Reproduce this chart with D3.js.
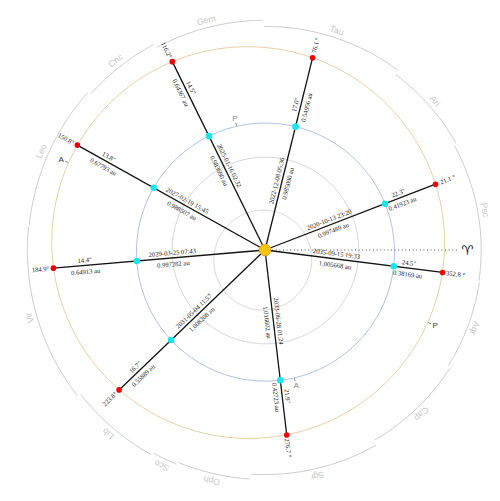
<!DOCTYPE html>
<html>
<head>
<meta charset="utf-8">
<script src="https://cdn.jsdelivr.net/npm/d3@7"></script>
<style>
  body { margin: 0; background: #fff; }
  svg { display: block; }
</style>
</head>
<body>
<div id="chart"></div>
<script>
// opposition data (heliocentric longitude of Mars, distances in au)
var dates = ["2020-10-13 23:20", "2022-12-08 05:36", "2025-01-16 02:32", "2027-02-19 15:45",
             "2029-03-25 07:43", "2031-05-04 11:57", "2033-06-28 01:24", "2035-09-15 19:33"];
var longitudes = [21.1, 76.1, 116.2, 150.8, 184.9, 223.8, 276.7, 352.8];
var earthDist = [0.997489, 0.985090, 0.983690, 0.988507, 0.997282, 1.008208, 1.016602, 1.005668];
var marsDist = [0.41923, 0.54956, 0.64367, 0.67793, 0.64913, 0.55889, 0.42723, 0.38169];
var marsDiam = [22.3, 17.0, 14.5, 13.8, 14.4, 16.7, 21.9, 24.5];

// orbits: Mercury, Venus, Earth, Mars
var planets = ["Mercury", "Venus", "Earth", "Mars"];
var semiMajor = [0.3871, 0.7233, 1.0000, 1.5237];
var eccentricity = [0.2056, 0.0068, 0.0167, 0.0934];
var perihelionLon = [77.46, 131.53, 102.94, 336.04];

// constellations along the ecliptic, with the longitude where each one starts
var zodiacNames = ["Psc", "Ari", "Tau", "Gem", "Cnc", "Leo", "Vir", "Lib", "Sco", "Oph", "Sgr", "Cap", "Aqr"];
var zodiacStart = [351.6, 29.1, 53.4, 90.4, 118.3, 138.2, 174.2, 217.9, 241.1, 247.7, 266.3, 299.8, 327.6];

var svgWidth = 500;
var svgHeight = 501;
var cx = 265, cy = 250;

var svg = d3.select("#chart").append("svg")
    .attr("width", svgWidth)
    .attr("height", svgHeight);

// au -> px
var rScale = d3.scaleLinear().domain([0, 1]).range([0, 129]);

function pt(lon, r) {
    var a = lon * Math.PI / 180;
    return [cx + r * Math.cos(a), cy - r * Math.sin(a)];
}

function orbitR(i, lon) {
    var a = semiMajor[i], e = eccentricity[i];
    return a * (1 - e * e) / (1 + e * Math.cos((lon - perihelionLon[i]) * Math.PI / 180));
}

var line = d3.line();

// zodiac ring, slightly off-centre
function ringR(lon) {
    return 227 - 11 * Math.cos(lon * Math.PI / 180);
}

var zodiac = zodiacNames.map(function(name, i) {
    var s = zodiacStart[i];
    var e = zodiacStart[(i + 1) % zodiacStart.length];
    if (e < s) e += 360;
    return { name: name, start: s, end: e, mid: (s + e) / 2 };
});

var ringG = svg.append("g");
ringG.selectAll("path")
    .data(zodiac)
    .enter()
    .append("path")
    .attr("d", function(d) {
        var r = ringR(d.mid);
        return line(d3.range(d.start + 0.2, d.end - 0.2, 0.5).concat([d.end - 0.2]).map(function(t) { return pt(t, r); }));
    })
    .attr("fill", "none")
    .attr("stroke", "#cccccc")
    .attr("stroke-width", 1);

ringG.selectAll("text")
    .data(zodiac)
    .enter()
    .append("text")
    .attr("transform", function(d) {
        var p = pt(d.mid, ringR(d.mid) + 7.5);
        return "translate(" + p[0] + "," + p[1] + ") rotate(" + (90 - d.mid) + ")";
    })
    .attr("text-anchor", "middle")
    .attr("dy", "0.35em")
    .attr("font-family", "Liberation Sans, Arial, sans-serif")
    .attr("font-size", "8.8px")
    .attr("fill", "#c8c8c8")
    .text(function(d) { return d.name; });

// orbits
var orbitColors = ["#d6d6d6", "#d6d6d6", "#b0c0ea", "#ebcfa3"];
svg.append("g").selectAll("path")
    .data(planets)
    .enter()
    .append("path")
    .attr("d", function(p, i) {
        return line(d3.range(0, 361, 1).map(function(t) { return pt(t, rScale(orbitR(i, t))); })) + "Z";
    })
    .attr("fill", "none")
    .attr("stroke", function(p, i) { return orbitColors[i]; })
    .attr("stroke-width", 1);

// perihelion / aphelion marks for Earth and Mars
var apsides = [];
[2, 3].forEach(function(i) {
    apsides.push({ planet: i, lon: perihelionLon[i], label: "P" });
    apsides.push({ planet: i, lon: (perihelionLon[i] + 180) % 360, label: "A" });
});
var apG = svg.append("g");
apG.selectAll("line")
    .data(apsides)
    .enter()
    .append("line")
    .attr("x1", function(d) { return pt(d.lon, rScale(orbitR(d.planet, d.lon)) + 0.5)[0]; })
    .attr("y1", function(d) { return pt(d.lon, rScale(orbitR(d.planet, d.lon)) + 0.5)[1]; })
    .attr("x2", function(d) { return pt(d.lon, rScale(orbitR(d.planet, d.lon)) + 3.5)[0]; })
    .attr("y2", function(d) { return pt(d.lon, rScale(orbitR(d.planet, d.lon)) + 3.5)[1]; })
    .attr("stroke", "#666")
    .attr("stroke-width", 0.8);
apG.selectAll("text")
    .data(apsides)
    .enter()
    .append("text")
    .attr("x", function(d) { return pt(d.lon, rScale(orbitR(d.planet, d.lon)) + 8)[0]; })
    .attr("y", function(d) { return pt(d.lon, rScale(orbitR(d.planet, d.lon)) + 8)[1]; })
    .attr("text-anchor", "middle")
    .attr("dy", "0.35em")
    .attr("font-family", "Liberation Sans, Arial, sans-serif")
    .attr("font-size", "8px")
    .attr("fill", function(d) { return d.planet === 2 ? "#888" : "#333"; })
    .text(function(d) { return d.label; });

// vernal equinox direction
var aries = pt(0, 193);
svg.append("line")
    .attr("x1", cx).attr("y1", cy)
    .attr("x2", aries[0]).attr("y2", aries[1])
    .attr("stroke", "#555")
    .attr("stroke-width", 1)
    .attr("stroke-dasharray", "1,2.6");
svg.append("text")
    .attr("x", pt(0, 202)[0]).attr("y", cy)
    .attr("text-anchor", "middle")
    .attr("dy", "0.35em")
    .attr("font-family", "DejaVu Sans, sans-serif")
    .attr("font-size", "13px")
    .attr("fill", "#111")
    .text("\u2648");

// opposition records
var opp = dates.map(function(d, i) {
    var lon = longitudes[i];
    return {
        date: d, lon: lon,
        eR: rScale(earthDist[i]),
        mR: rScale(earthDist[i] + marsDist[i]),
        eDist: earthDist[i], mDist: marsDist[i], diam: marsDiam[i],
        flip: Math.cos(lon * Math.PI / 180) < 0
    };
});

var oppG = svg.append("g");
oppG.selectAll("line")
    .data(opp)
    .enter()
    .append("line")
    .attr("x1", cx).attr("y1", cy)
    .attr("x2", function(d) { return pt(d.lon, d.mR)[0]; })
    .attr("y2", function(d) { return pt(d.lon, d.mR)[1]; })
    .attr("stroke", "#111")
    .attr("stroke-width", 1.3);

function labelAt(d, along) {
    var p = pt(d.lon, along);
    var rot = d.flip ? 180 - d.lon : -d.lon;
    return "translate(" + p[0] + "," + p[1] + ") rotate(" + rot + ")";
}

var labels = [
    { along: function(d) { return d.eR * (d.flip ? 0.72 : 0.55); }, dy: -3, text: function(d) { return d.date; } },
    { along: function(d) { return d.eR * (d.flip ? 0.72 : 0.55); }, dy: 8.5, text: function(d) { return d.eDist.toFixed(6) + " au"; } },
    { along: function(d) { return d.eR + (d.mR - d.eR) * (d.flip ? 0.62 : 0.3); }, dy: -3, text: function(d) { return d.diam.toFixed(1) + "\""; } },
    { along: function(d) { return d.eR + (d.mR - d.eR) * (d.flip ? 0.62 : 0.3); }, dy: 8.5, text: function(d) { return d.mDist.toFixed(5) + " au"; } },
    { along: function(d) { return d.mR + 13; }, dy: 2.3, text: function(d) { return d.lon.toFixed(1) + (d.flip ? "°" : " °"); } }
];

labels.forEach(function(lab) {
    oppG.append("g").selectAll("text")
        .data(opp)
        .enter()
        .append("text")
        .attr("transform", function(d) { return labelAt(d, lab.along(d)); })
        .attr("y", lab.dy)
        .attr("text-anchor", "middle")
        .attr("font-family", "Liberation Serif, Times New Roman, serif")
        .attr("font-size", "6.6px")
        .attr("fill", "#222")
        .text(lab.text);
});

// Earth and Mars positions
oppG.append("g").selectAll("circle")
    .data(opp)
    .enter()
    .append("circle")
    .attr("cx", function(d) { return pt(d.lon, d.eR)[0]; })
    .attr("cy", function(d) { return pt(d.lon, d.eR)[1]; })
    .attr("r", 3.3)
    .attr("fill", "#19e6ea");

oppG.append("g").selectAll("circle")
    .data(opp)
    .enter()
    .append("circle")
    .attr("cx", function(d) { return pt(d.lon, d.mR)[0]; })
    .attr("cy", function(d) { return pt(d.lon, d.mR)[1]; })
    .attr("r", 2.8)
    .attr("fill", "#ee0000");

// sun
svg.append("circle")
    .attr("cx", cx).attr("cy", cy)
    .attr("r", 5.8)
    .attr("fill", "#ffc410")
    .attr("stroke", "#f0a020")
    .attr("stroke-width", 1);
</script>
</body>
</html>
